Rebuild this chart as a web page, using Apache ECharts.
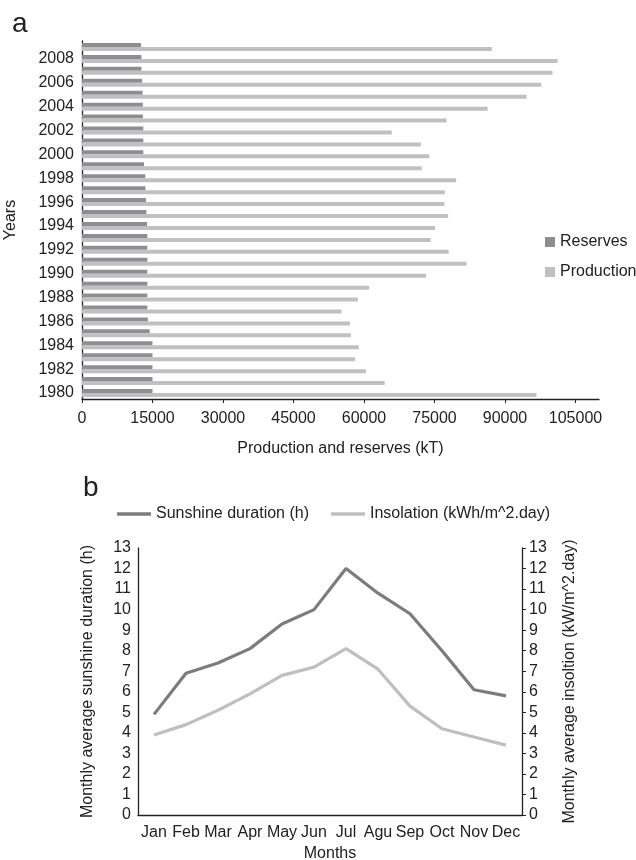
<!DOCTYPE html>
<html>
<head>
<meta charset="utf-8">
<script src="https://cdn.jsdelivr.net/npm/echarts@6/dist/echarts.min.js"></script>
<style>
html,body{margin:0;padding:0;background:#fff;}
#c{width:636px;height:860px;}
</style>
</head>
<body>
<div id="c"></div>
<script>
// ---- Panel a data ----
const years = ['1980','1981','1982','1983','1984','1985','1986','1987','1988','1989',
  '1990','1991','1992','1993','1994','1995','1996','1997','1998','1999',
  '2000','2001','2002','2003','2004','2005','2006','2007','2008','2009'];
const reserves = [15000,15000,15000,15000,15000,14400,14000,13900,13900,13900,
  13900,13900,13900,13900,13850,13700,13600,13500,13450,13200,
  13050,13050,13050,12950,12950,12900,12800,12650,12650,12550];
const production = [96700,64400,60400,58100,58900,57200,57000,55200,58700,61100,
  73200,81800,78000,74200,75100,77900,77100,77200,79600,72300,
  73900,72100,65900,77600,86300,94600,97700,100100,101200,87200];
const xTicksA = [0,15000,30000,45000,60000,75000,90000,105000];

// ---- Panel b data ----
const months = ['Jan','Feb','Mar','Apr','May','Jun','Jul','Agu','Sep','Oct','Nov','Dec'];
const sunshine = [4.9,6.9,7.4,8.1,9.3,10.0,12.0,10.8,9.8,8.0,6.1,5.8];
const insolation = [3.9,4.4,5.1,5.9,6.8,7.2,8.1,7.1,5.3,4.2,3.8,3.4];

const FONT = "'Liberation Sans', Arial, Helvetica, sans-serif";
const TXT = '#222';
const AX = '#222';
const FS = 16;

const chart = echarts.init(document.getElementById('c'), null, {renderer:'canvas'});
chart.setOption({
  animation: false,
  backgroundColor: '#fff',
  textStyle: {fontFamily: FONT, color: TXT},
  title: [
    {text: 'a', left: 7, top: 5, textStyle: {fontFamily: FONT, fontSize: 28, fontWeight: 'normal', color: TXT}},
    {text: 'b', left: 78, top: 469, textStyle: {fontFamily: FONT, fontSize: 28, fontWeight: 'normal', color: TXT}}
  ],
  legend: [
    {
      data: ['Reserves','Production'],
      orient: 'vertical', left: 545, top: 234, padding: 0,
      itemWidth: 10, itemHeight: 10, itemGap: 14,
      icon: 'rect',
      textStyle: {fontFamily: FONT, fontSize: FS, color: TXT}
    },
    {
      data: ['Sunshine duration (h)','Insolation (kWh/m^2.day)'],
      left: 117, top: 506, padding: 0,
      itemWidth: 34, itemHeight: 3.5, itemGap: 22,
      icon: 'rect',
      textStyle: {fontFamily: FONT, fontSize: FS, color: TXT}
    }
  ],
  grid: [
    {left: 82, top: 41, width: 517, height: 358, containLabel: false, outerBoundsMode: 'none'},
    {left: 138, top: 548, width: 384, height: 267, containLabel: false, outerBoundsMode: 'none'}
  ],
  xAxis: [
    {
      gridIndex: 0, type: 'value', min: 0, max: 110000, interval: 15000,
      name: 'Production and reserves (kT)', nameLocation: 'middle', nameGap: 42,
      nameTextStyle: {fontFamily: FONT, fontSize: FS, color: TXT},
      axisLine: {show: true, lineStyle: {color: AX, width: 1.3}},
      axisTick: {show: true, length: 4, lineStyle: {color: AX}, customValues: xTicksA},
      axisLabel: {fontFamily: FONT, fontSize: FS, color: TXT, margin: 12, customValues: xTicksA,
        formatter: v => String(v)},
      splitLine: {show: false}
    },
    {
      gridIndex: 1, type: 'category', data: months, boundaryGap: true,
      name: 'Months', nameLocation: 'middle', nameGap: 31,
      nameTextStyle: {fontFamily: FONT, fontSize: FS, color: TXT},
      axisLine: {show: true, lineStyle: {color: AX, width: 1.3}},
      axisTick: {show: false},
      axisLabel: {fontFamily: FONT, fontSize: FS, color: TXT, margin: 10, interval: 0},
      splitLine: {show: false}
    }
  ],
  yAxis: [
    {
      gridIndex: 0, type: 'category', data: years, boundaryGap: true,
      name: 'Years', nameLocation: 'middle', nameGap: 63, nameRotate: 90,
      nameTextStyle: {fontFamily: FONT, fontSize: FS, color: TXT},
      axisLine: {show: true, lineStyle: {color: AX, width: 1.3}},
      axisTick: {show: false},
      axisLabel: {fontFamily: FONT, fontSize: FS, color: TXT, margin: 8, interval: 1},
      splitLine: {show: false}
    },
    {
      gridIndex: 1, type: 'value', min: 0, max: 13, interval: 1, position: 'left',
      name: 'Monthly average sunshine duration (h)', nameLocation: 'middle', nameGap: 42, nameRotate: 90,
      nameTextStyle: {fontFamily: FONT, fontSize: FS, color: TXT},
      axisLine: {show: true, lineStyle: {color: AX, width: 1.3}},
      axisTick: {show: false},
      axisLabel: {fontFamily: FONT, fontSize: FS, color: TXT, margin: 7},
      splitLine: {show: false}
    },
    {
      gridIndex: 1, type: 'value', min: 0, max: 13, interval: 1, position: 'right',
      name: 'Monthly average insoltion (kW/m^2.day)', nameLocation: 'middle', nameGap: 40, nameRotate: 90,
      nameTextStyle: {fontFamily: FONT, fontSize: FS, color: TXT},
      axisLine: {show: true, lineStyle: {color: AX, width: 1.3}},
      axisTick: {show: true, length: 4, inside: false, lineStyle: {color: AX}},
      axisLabel: {fontFamily: FONT, fontSize: FS, color: TXT, margin: 7},
      splitLine: {show: false}
    }
  ],
  series: [
    {
      name: 'Reserves', type: 'bar', xAxisIndex: 0, yAxisIndex: 0,
      data: reserves, barWidth: 4, barGap: '0%',
      itemStyle: {color: '#8e8e90'}
    },
    {
      name: 'Production', type: 'bar', xAxisIndex: 0, yAxisIndex: 0,
      data: production, barWidth: 4, barGap: '0%',
      itemStyle: {color: '#c0c0c2'}
    },
    {
      name: 'Sunshine duration (h)', type: 'line', xAxisIndex: 1, yAxisIndex: 1,
      data: sunshine, symbol: 'none', showSymbol: false,
      lineStyle: {color: '#7c7c7e', width: 3.2},
      itemStyle: {color: '#7c7c7e'}
    },
    {
      name: 'Insolation (kWh/m^2.day)', type: 'line', xAxisIndex: 1, yAxisIndex: 2,
      data: insolation, symbol: 'none', showSymbol: false,
      lineStyle: {color: '#bfbfc1', width: 3.2},
      itemStyle: {color: '#bfbfc1'}
    }
  ]
});
</script>
</body>
</html>
